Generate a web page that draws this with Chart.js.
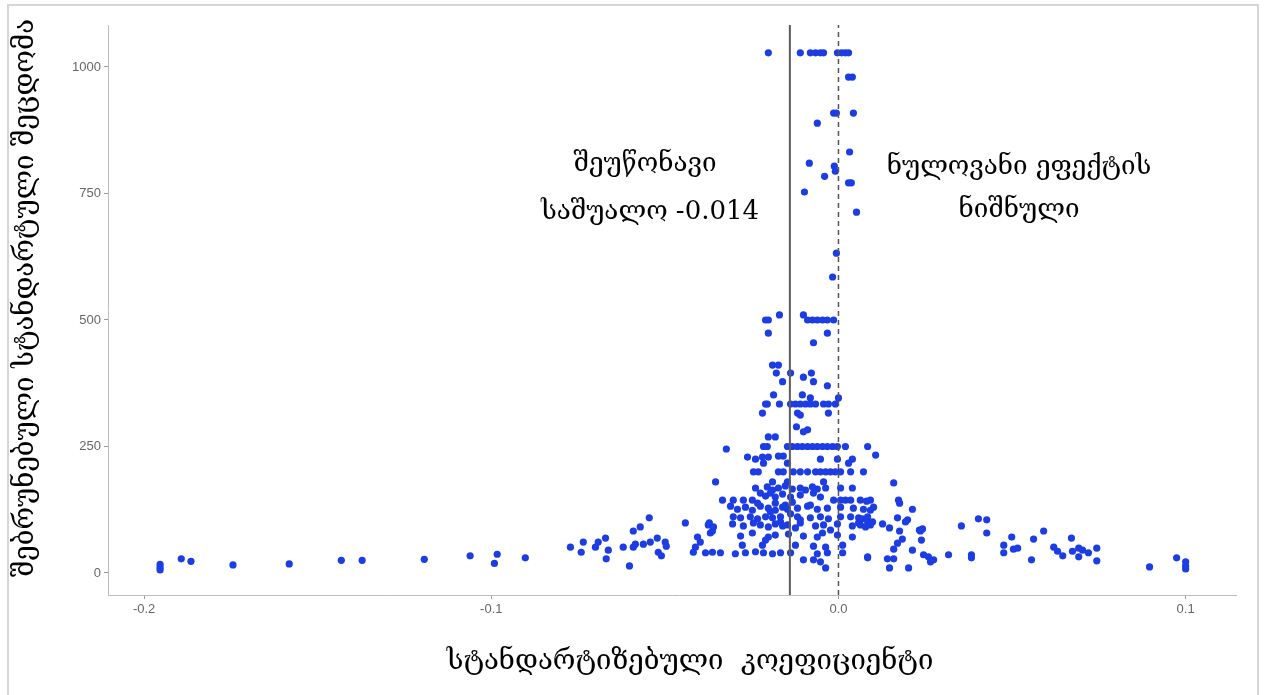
<!DOCTYPE html>
<html>
<head>
<meta charset="utf-8">
<script src="https://cdn.jsdelivr.net/npm/chart.js@4/dist/chart.umd.min.js"></script>
<style>
  body { margin: 0; background: #fff; }
  canvas { display: block; }
</style>
</head>
<body>
<canvas id="funnel" width="1264" height="695"></canvas>
<script>
// standardized coefficient of each study (x) and its inverse standard error (y)
const effectSize = [
  -0.0202, -0.0110, -0.0081, -0.0066, -0.0052, -0.0043, -0.0003, 0.0009, 0.0020, 0.0029,
  0.0029, 0.0040, -0.0014, -0.0006, 0.0043, -0.0061, 0.0032, -0.0084, -0.0012, -0.0009, -0.0040, 0.0029, 0.0037, -0.0098, 0.0052, -0.0006, -0.0017,
  -0.0170, -0.0101, -0.0210, -0.0202, -0.0089, -0.0075, -0.0061, -0.0046, -0.0032, -0.0014,
  -0.0202, -0.0032, -0.0072, -0.0190, -0.0173, -0.0179, -0.0138, -0.0078, -0.0101, -0.0161, -0.0072, -0.0032, -0.0187, -0.0104,
  -0.0081, 0.0000, -0.0210, -0.0205, -0.0170, -0.0138, -0.0124, -0.0110, -0.0095, -0.0081, -0.0066, -0.0043, -0.0029, -0.0009,
  -0.0219, -0.0118, -0.0029, -0.0110, -0.0121, -0.0089, -0.0202, -0.0182, -0.0101,
  -0.0216, -0.0205, -0.0147, -0.0133, -0.0118, -0.0104, -0.0089, -0.0075, -0.0061, -0.0046, -0.0032, -0.0017, -0.0003, 0.0020, 0.0084,
  -0.0323, 0.0107, -0.0262, -0.0239, -0.0219, -0.0202, -0.0173, -0.0159, -0.0052, -0.0003, 0.0040, -0.0216, -0.0147, 0.0029,
  -0.0245, -0.0231, -0.0173, -0.0159, -0.0130, -0.0110, -0.0089, -0.0066, -0.0052, -0.0037, -0.0023, -0.0009, 0.0006, 0.0035, 0.0072,
  -0.0354, -0.0190, -0.0147, -0.0043, 0.0159,
  -0.0239, -0.0205, -0.0190, -0.0173, -0.0153, -0.0133, -0.0110, -0.0095, -0.0075, -0.0061, -0.0037, 0.0006, 0.0040,
  -0.0225, -0.0210, -0.0196, -0.0182, -0.0161, -0.0138, -0.0110, -0.0072, -0.0052,
  -0.0334, -0.0303, -0.0274, -0.0248, -0.0014, 0.0006, 0.0020, 0.0035, 0.0063, 0.0092, 0.0173, 0.0176, 0.0213, 0.0101, 0.0092, 0.0081,
  -0.0311, -0.0291, -0.0268, -0.0248, -0.0225, -0.0202, -0.0182, -0.0161, -0.0147, -0.0118, -0.0089, -0.0061, -0.0032, 0.0006, 0.0043, 0.0072,
  -0.0303, -0.0282, -0.0254, -0.0233, -0.0210, -0.0190, -0.0167, -0.0118, -0.0110, -0.0081, -0.0052, -0.0029, 0.0006, 0.0035, 0.0058, 0.0084,
  0.0170, 0.0199, 0.0193, 0.0069, 0.0084, 0.0098, 0.0078, 0.0092, 0.0063, 0.0127, 0.0147, 0.0233, 0.0242, 0.0354,
  -0.0375, -0.0305, -0.0274, -0.0245, -0.0225, -0.0202, -0.0182, -0.0161, -0.0147, -0.0110, -0.0066, -0.0043, -0.0003, 0.0040, 0.0058,
  0.0176, 0.0236, 0.0184, 0.0170, 0.0239, 0.0427, 0.0403, 0.0427, 0.0159, 0.0213,
  -0.0369, -0.0282, -0.0248, -0.0202, -0.0182, -0.0144, -0.0101, -0.0061, -0.0046, -0.0003, 0.0040,
  -0.0277, -0.0219, -0.0072, -0.0037, 0.0012,
  -0.0383, -0.0363, -0.0340, -0.0297, -0.0268, -0.0239, -0.0216, -0.0190, -0.0167, -0.0138, -0.0061, -0.0032, 0.0012, 0.0084,
  -0.0101, -0.0072, -0.0052, -0.0037,
  0.0084, 0.0141, 0.0159, 0.0147, 0.0202, 0.0245, 0.0259, 0.0274, 0.0265, 0.0317, 0.0383, 0.0383,
  0.0476, 0.0476, 0.0499, 0.0504, 0.0516, 0.0556, 0.0562, 0.0591, 0.0620, 0.0631, 0.0646, 0.0671, 0.0674, 0.0692, 0.0692, 0.0703, 0.0720, 0.0744, 0.0744, 0.0896, 0.0974, 0.1000, 0.1000, 0.1000,
  -0.0620, -0.0602, -0.0591, -0.0591, -0.0585, -0.0571, -0.0562, -0.0545, -0.0542, -0.0522, -0.0519, -0.0510, -0.0499, -0.0496, -0.0441, -0.0418, -0.0412, -0.0406, -0.0398, -0.0372, -0.0363, -0.0360,
  -0.1954, -0.1954, -0.1954, -0.1893, -0.1865, -0.1744, -0.1582, -0.1432, -0.1372, -0.1193, -0.1061, -0.0991, -0.0983, -0.0902, -0.0772, -0.0741, -0.0735, -0.0700, -0.0692, -0.0671, -0.0669, -0.0663,
  -0.0182, -0.0153, -0.0133, -0.0196, -0.0138, -0.0167, -0.0124, -0.0233, -0.0081, -0.0210, -0.0124, -0.0023
];
const precision = [
  1028, 1028, 1028, 1028, 1028, 1028, 1028, 1028, 1028, 1028,
  980, 980, 909, 909, 909, 889, 832, 810, 804, 794, 784, 771, 771, 753, 713, 632, 585,
  510, 510, 500, 500, 500, 500, 500, 500, 500, 500,
  474, 474, 455, 411, 411, 395, 395, 395, 387, 378, 378, 370, 352, 352,
  346, 346, 334, 334, 334, 334, 334, 334, 334, 334, 334, 334, 334, 334,
  316, 316, 316, 312, 289, 283, 269, 269, 279,
  250, 250, 250, 250, 250, 250, 250, 250, 250, 250, 250, 250, 250, 250, 250,
  245, 233, 229, 225, 229, 229, 231, 231, 225, 225, 225, 217, 217, 217,
  200, 200, 200, 200, 200, 200, 200, 200, 200, 200, 200, 200, 200, 200, 200,
  180, 180, 180, 180, 178,
  168, 170, 164, 168, 172, 166, 168, 164, 170, 166, 168, 168, 168,
  158, 152, 158, 150, 156, 150, 154, 158, 150,
  144, 144, 144, 144, 144, 144, 144, 144, 144, 144, 144, 138, 126, 130, 124, 142,
  132, 126, 130, 124, 132, 128, 124, 130, 126, 128, 132, 126, 128, 130, 128, 126,
  111, 109, 111, 107, 111, 109, 111, 111, 105, 109, 111, 107, 111, 111, 109, 111,
  109, 105, 101, 107, 101, 101, 91, 95, 95, 97, 89, 85, 87, 93,
  95, 97, 93, 99, 95, 91, 97, 93, 95, 99, 93, 95, 97, 93, 99,
  83, 83, 67, 59, 65, 79, 107, 105, 47, 45,
  79, 73, 79, 71, 75, 77, 73, 71, 79, 75, 71,
  55, 55, 53, 51, 55,
  40, 41, 40, 38, 40, 42, 40, 38, 40, 40, 38, 40, 40, 32,
  26, 26, 22, 10,
  30, 28, 28, 10, 10, 36, 32, 26, 22, 36, 36, 30,
  55, 40, 71, 47, 49, 26, 67, 83, 51, 43, 34, 69, 43, 49, 32, 45, 40, 49, 24, 12, 30, 22, 14, 8,
  51, 14, 83, 51, 57, 91, 57, 109, 61, 69, 41, 34, 61, 53, 99, 41, 51, 71, 61, 99, 83, 91,
  17, 11, 6, 28, 23, 16, 18, 25, 25, 27, 34, 19, 37, 30, 51, 41, 61, 51, 61, 69, 28, 45,
  138, 134, 140, 121, 117, 101, 89, 138, 134, 65, 55, 85
];
const xTicks = [-0.2, -0.1, 0, 0.1];
const xTickLabels = ['-0.2', '-0.1', '0.0', '0.1'];
const yTicks = [0, 250, 500, 750, 1000];
const yTickLabels = ['0', '250', '500', '750', '1000'];
const meanEffect = -0.014;
const nullEffect = 0;
const xTitle = 'სტანდარტიზებული  კოეფიციენტი';
const yTitle = 'შებრუნებული სტანდარტული შეცდომა';
const meanNote = ['შეუწონავი', 'საშუალო -0.014'];
const nullNote = ['ნულოვანი ეფექტის', 'ნიშნული'];

if (effectSize.length !== precision.length) {
  throw new Error('length mismatch ' + effectSize.length + ' vs ' + precision.length);
}

const points = effectSize.map((x, i) => ({ x: x, y: precision[i] }));
const yMin = -43.5, yMax = 1083;

const serif = '"DejaVu Serif", "Liberation Serif", serif';

// frame, axis titles and the two notes
const textPlugin = {
  id: 'funnelText',
  beforeDraw(chart) {
    const ctx = chart.ctx;
    ctx.save();
    ctx.strokeStyle = '#d6d6d6';
    ctx.lineWidth = 2;
    ctx.strokeRect(8, 5, 1250, 700);
    ctx.restore();
  },
  afterDraw(chart) {
    const ctx = chart.ctx;
    ctx.save();
    ctx.fillStyle = '#000';
    ctx.textAlign = 'center';
    ctx.textBaseline = 'middle';
    ctx.font = '26px ' + serif;
    ctx.fillText(meanNote[0], 645, 164);
    ctx.fillText(meanNote[1], 650, 212);
    ctx.fillText(nullNote[0], 1019, 167);
    ctx.fillText(nullNote[1], 1019, 210);
    ctx.font = '27.5px ' + serif;
    ctx.fillText(xTitle, 690, 662);
    ctx.translate(26, 298);
    ctx.rotate(-Math.PI / 2);
    ctx.fillText(yTitle, 0, 0);
    ctx.restore();
  }
};

const tickFont = { family: '"Liberation Sans", Arial, sans-serif', size: 13 };

new Chart(document.getElementById('funnel'), {
  type: 'scatter',
  data: {
    datasets: [
      {
        type: 'line',
        data: [{ x: meanEffect, y: yMin }, { x: meanEffect, y: yMax }],
        borderColor: '#5c5c5c',
        borderWidth: 2,
        pointRadius: 0,
        order: 1
      },
      {
        type: 'line',
        data: [{ x: nullEffect, y: yMin }, { x: nullEffect, y: yMax }],
        borderColor: '#555',
        borderWidth: 1.5,
        borderDash: [5, 4],
        pointRadius: 0,
        order: 1
      },
      {
        data: points,
        backgroundColor: '#1c3ce4',
        borderWidth: 0,
        pointRadius: 3.6,
        order: 2
      }
    ]
  },
  options: {
    responsive: false,
    animation: false,
    layout: { padding: { top: 25, right: 28, left: 0, bottom: 0 } },
    plugins: { legend: { display: false }, tooltip: { enabled: false } },
    scales: {
      x: {
        type: 'linear',
        min: -0.2104,
        max: 0.1145,
        afterBuildTicks: s => { s.ticks = xTicks.map(v => ({ value: v })); },
        afterFit: s => { s.height = 100; },
        ticks: {
          autoSkip: false,
          maxRotation: 0,
          padding: 3,
          color: '#666',
          font: tickFont,
          callback: v => xTickLabels[xTicks.indexOf(v)]
        },
        grid: { drawOnChartArea: false, tickLength: 4, color: '#9a9a9a' },
        border: { color: '#bdbdbd', width: 1 }
      },
      y: {
        type: 'linear',
        min: yMin,
        max: yMax,
        afterBuildTicks: s => { s.ticks = yTicks.map(v => ({ value: v })); },
        afterFit: s => { s.width = 108; },
        ticks: {
          autoSkip: false,
          padding: 3,
          color: '#666',
          font: tickFont,
          callback: v => yTickLabels[yTicks.indexOf(v)]
        },
        grid: { drawOnChartArea: false, tickLength: 4, color: '#9a9a9a' },
        border: { color: '#bdbdbd', width: 1 }
      }
    }
  },
  plugins: [textPlugin]
});
</script>
</body>
</html>
